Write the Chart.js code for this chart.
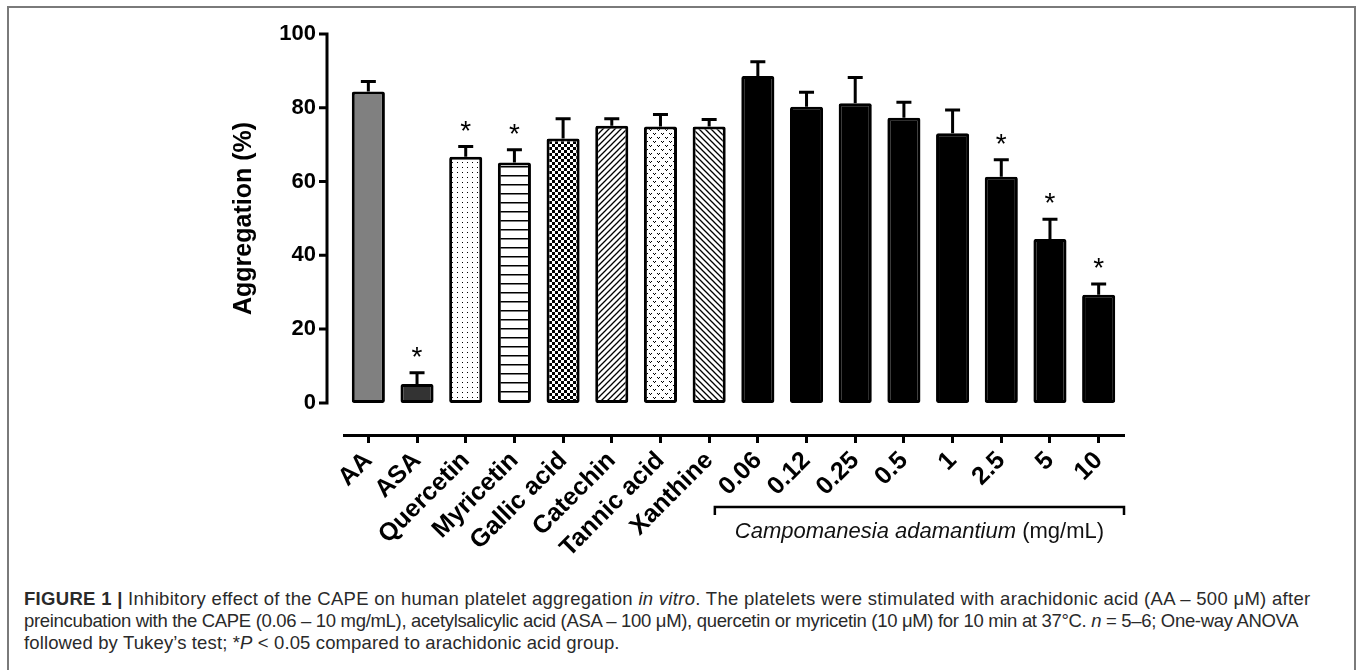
<!DOCTYPE html>
<html>
<head>
<meta charset="utf-8">
<script src="https://cdn.jsdelivr.net/npm/chart.js@4.4.1/dist/chart.umd.min.js"></script>
<style>
  html, body { margin: 0; padding: 0; background: #fff; }
  body { width: 1357px; height: 670px; position: relative; overflow: hidden; }
  #frame { position: absolute; left: 7px; top: 6px; width: 1349px; height: 720px; border: 2px solid #7a7a7a; box-sizing: border-box; }
  #chart { position: absolute; left: 0; top: 0; }
  #caption { position: absolute; left: 24px; top: 588px; font-family: "Liberation Sans", Arial, sans-serif; font-size: 18.5px; line-height: 22.2px; color: #2a2a2a; white-space: nowrap; }
  #caption div:nth-child(1) { letter-spacing: 0.3px; }
  #caption div:nth-child(2) { letter-spacing: -0.32px; }
  #caption div:nth-child(3) { letter-spacing: 0.13px; }
</style>
</head>
<body>
<div id="frame"></div>
<canvas id="chart" width="1357" height="560"></canvas>
<div id="caption">
  <div><b>FIGURE 1 |</b> Inhibitory effect of the CAPE on human platelet aggregation <i>in vitro</i>. The platelets were stimulated with arachidonic acid (AA – 500 μM) after</div>
  <div>preincubation with the CAPE (0.06 – 10 mg/mL), acetylsalicylic acid (ASA – 100 μM), quercetin or myricetin (10 μM) for 10 min at 37°C. <i>n</i> = 5–6; One-way ANOVA</div>
  <div>followed by Tukey’s test; *<i>P</i> &lt; 0.05 compared to arachidonic acid group.</div>
</div>
<script>
const labels = ['AA', 'ASA', 'Quercetin', 'Myricetin', 'Gallic acid', 'Catechin', 'Tannic acid', 'Xanthine',
  '0.06', '0.12', '0.25', '0.5', '1', '2.5', '5', '10']
const means = [84.4, 5.1, 66.7, 65.2, 71.7, 75.1, 74.9, 74.9, 88.6, 80.3, 81.2, 77.3, 73.1, 61.3, 44.4, 29.3]
const errors = [2.7, 3.1, 2.8, 3.4, 5.3, 1.9, 3.3, 1.9, 3.9, 3.9, 7.0, 4.2, 6.3, 4.6, 5.4, 2.9]
const significant = [false, true, true, true, false, false, false, false,
  false, false, false, false, false, true, true, true]
const yTicks = [0, 20, 40, 60, 80, 100]
const yTitle = 'Aggregation (%)'
const groupName = 'Campomanesia adamantium'
const groupUnit = ' (mg/mL)'

const FONT = 'Arial, "Liberation Sans", sans-serif'

// small tiles for the hatched bars
function tile (w, h, draw) {
  const c = document.createElement('canvas')
  c.width = w
  c.height = h
  const g = c.getContext('2d')
  g.fillStyle = '#fff'
  g.fillRect(0, 0, w, h)
  g.fillStyle = '#000'
  g.strokeStyle = '#000'
  draw(g, w, h)
  return g.createPattern(c, 'repeat')
}

const dots = tile(5, 5, g => g.fillRect(2, 2, 1, 1))
const hlines = tile(10, 9, g => g.fillRect(0, 4, 10, 1.5))
const checker = tile(6, 6, g => { g.fillRect(0, 0, 3, 3); g.fillRect(3, 3, 3, 3) })
const slash = tile(6, 6, g => {
  g.lineWidth = 1.3
  g.beginPath()
  g.moveTo(-1, 7); g.lineTo(7, -1)
  g.moveTo(-4, 4); g.lineTo(4, -4)
  g.moveTo(2, 10); g.lineTo(10, 2)
  g.stroke()
})
const backslash = tile(6, 6, g => {
  g.lineWidth = 1.3
  g.beginPath()
  g.moveTo(-1, -1); g.lineTo(7, 7)
  g.moveTo(-4, 2); g.lineTo(4, 10)
  g.moveTo(2, -4); g.lineTo(10, 4)
  g.stroke()
})
const stipple = tile(8, 8, g => {
  g.fillRect(1, 1, 1, 1); g.fillRect(3, 1, 1, 1); g.fillRect(2, 2, 1, 1)
  g.fillRect(5, 5, 1, 1); g.fillRect(7, 5, 1, 1); g.fillRect(6, 6, 1, 1)
})

const fills = ['#808080', '#333333', dots, hlines, checker, slash, stipple, backslash,
  '#000', '#000', '#000', '#000', '#000', '#000', '#000', '#000']

// error bars, asterisks, offset y axis, axis title and the group bracket
const decorations = {
  id: 'decorations',
  afterDatasetsDraw (chart) {
    const { ctx, chartArea } = chart
    const x = chart.scales.x
    const y = chart.scales.y
    ctx.save()
    ctx.strokeStyle = '#000'
    ctx.fillStyle = '#000'
    ctx.lineWidth = 3

    means.forEach((m, i) => {
      const px = x.getPixelForValue(i)
      const top = y.getPixelForValue(m + errors[i])
      ctx.beginPath()
      ctx.moveTo(px, y.getPixelForValue(m))
      ctx.lineTo(px, top)
      ctx.moveTo(px - 7.5, top)
      ctx.lineTo(px + 7.5, top)
      ctx.stroke()
      if (significant[i]) {
        ctx.font = '28px ' + FONT
        ctx.textAlign = 'center'
        ctx.textBaseline = 'alphabetic'
        ctx.fillText('*', px, top - 7)
      }
    })

    const ax = chartArea.left - 17
    const y0 = y.getPixelForValue(0)
    const y100 = y.getPixelForValue(100)
    ctx.beginPath()
    ctx.moveTo(ax, y0 + 1.5)
    ctx.lineTo(ax, y100 - 1.5)
    yTicks.forEach(v => {
      const py = y.getPixelForValue(v)
      ctx.moveTo(ax - 8, py)
      ctx.lineTo(ax + 1.5, py)
    })
    ctx.stroke()

    ctx.save()
    ctx.translate(251, (y0 + y100) / 2)
    ctx.rotate(-Math.PI / 2)
    ctx.font = 'bold 25px ' + FONT
    ctx.textAlign = 'center'
    ctx.textBaseline = 'alphabetic'
    ctx.fillText(yTitle, 0, 0)
    ctx.restore()

    const left = x.getPixelForValue(8) - 43
    const right = chartArea.right + 1
    const by = chartArea.bottom + 72
    ctx.lineWidth = 2.5
    ctx.beginPath()
    ctx.moveTo(left, by + 8)
    ctx.lineTo(left, by)
    ctx.lineTo(right, by)
    ctx.lineTo(right, by + 8)
    ctx.stroke()

    ctx.textAlign = 'left'
    ctx.font = 'italic 22px ' + FONT
    const w1 = ctx.measureText(groupName).width
    ctx.font = '22px ' + FONT
    const w2 = ctx.measureText(groupUnit).width
    const start = (left + right) / 2 - (w1 + w2) / 2
    const ty = by + 31
    ctx.fillStyle = '#111'
    ctx.font = 'italic 22px ' + FONT
    ctx.fillText(groupName, start, ty)
    ctx.font = '22px ' + FONT
    ctx.fillText(groupUnit, start + w1, ty)
    ctx.restore()
  }
}

new Chart(document.getElementById('chart'), {
  type: 'bar',
  data: {
    labels: labels,
    datasets: [{
      data: means,
      backgroundColor: fills,
      borderColor: '#000',
      borderWidth: 3,
      borderSkipped: false,
      borderRadius: 2,
      barPercentage: 0.68,
      categoryPercentage: 1
    }]
  },
  options: {
    responsive: false,
    animation: false,
    devicePixelRatio: 1,
    layout: { padding: { left: 0, top: 34, right: 234, bottom: 0 } },
    plugins: {
      legend: { display: false },
      tooltip: { enabled: false }
    },
    scales: {
      x: {
        grid: { display: true, drawOnChartArea: false, drawTicks: true, tickLength: 8, lineWidth: 3, color: '#000', offset: false },
        border: { display: true, width: 3, color: '#000' },
        ticks: {
          autoSkip: false,
          minRotation: 45,
          maxRotation: 45,
          padding: 3,
          color: '#000',
          font: { family: FONT, size: 25, weight: 'bold' }
        },
        afterFit: scale => { scale.height = 125 }
      },
      y: {
        min: -8.7,
        max: 100,
        // hidden grid, but its tick length still pushes the labels left
        grid: { display: false, drawTicks: true, tickLength: 25 },
        border: { display: false },
        ticks: {
          padding: 3,
          color: '#000',
          font: { family: FONT, size: 22, weight: 'bold' }
        },
        afterBuildTicks: scale => { scale.ticks = yTicks.map(v => ({ value: v })) },
        afterFit: scale => { scale.width = 344 }
      }
    }
  },
  plugins: [decorations]
})
</script>
</body>
</html>
